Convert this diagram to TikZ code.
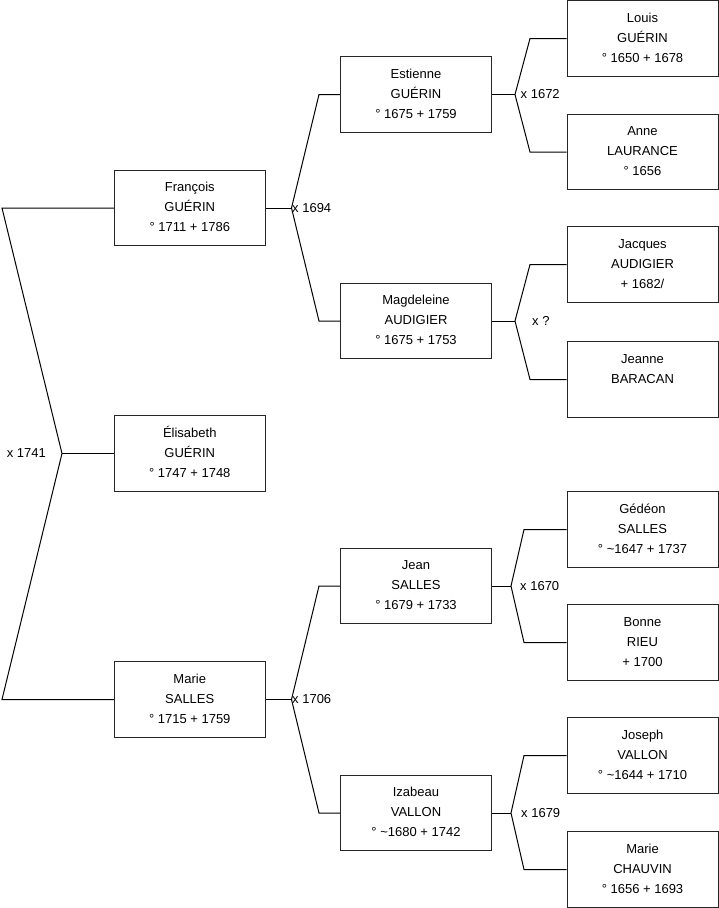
\documentclass[tikz,border=0pt]{standalone}
\usepackage{fontspec}
\setmainfont{Liberation Sans}
\newcommand\pers[3]{\rule{0pt}{12pt}#1\\#2\\#3\rule[-4.8pt]{0pt}{4.8pt}}
\tikzset{
  person/.style={draw=black!85, line width=1pt, minimum width=151pt, minimum height=75.5pt,
    inner sep=0pt, align=center, font=\fontsize{13}{20}\selectfont},
  conn/.style={line width=1pt, black},
  marr/.style={inner sep=0pt, font=\fontsize{13}{15}\selectfont}
}
\begin{document}
\begin{tikzpicture}[x=1pt,y=-1pt]
\useasboundingbox (0,0) rectangle (719,908);
% generation 0
\node[person] (elis) at (189.75,453.5) {\pers{Élisabeth}{GUÉRIN}{° 1747 + 1748}};
% generation 1
\node[person] (fran) at (189.75,208) {\pers{François}{GUÉRIN}{° 1711 + 1786}};
\node[person] (marie) at (189.75,699.5) {\pers{Marie}{SALLES}{° 1715 + 1759}};
% generation 2
\node[person] (est) at (416,94.5) {\pers{Estienne}{GUÉRIN}{° 1675 + 1759}};
\node[person] (mag) at (416,321) {\pers{Magdeleine}{AUDIGIER}{° 1675 + 1753}};
\node[person] (jean) at (416,586) {\pers{Jean}{SALLES}{° 1679 + 1733}};
\node[person] (izab) at (416,813) {\pers{Izabeau}{VALLON}{° \textasciitilde1680 + 1742}};
% generation 3
\node[person] (louis) at (642.5,38.5) {\pers{Louis}{GUÉRIN}{° 1650 + 1678}};
\node[person] (anne) at (642.5,152) {\pers{Anne}{LAURANCE}{° 1656}};
\node[person] (jacq) at (642.5,264.5) {\pers{Jacques}{AUDIGIER}{+ 1682/}};
\node[person] (jeanne) at (642.5,379.5) {\pers{Jeanne}{BARACAN}{}};
\node[person] (gedeon) at (642.5,529.5) {\pers{Gédéon}{SALLES}{° \textasciitilde1647 + 1737}};
\node[person] (bonne) at (642.5,642.5) {\pers{Bonne}{RIEU}{+ 1700}};
\node[person] (joseph) at (642.5,755.5) {\pers{Joseph}{VALLON}{° \textasciitilde1644 + 1710}};
\node[person] (mariec) at (642.5,869.5) {\pers{Marie}{CHAUVIN}{° 1656 + 1693}};

% helper coordinates
\coordinate (x0) at (2,0);
\coordinate (x1) at (319,0);
\coordinate (x2) at (530,0);
\coordinate (x3) at (524,0);
\coordinate (a0) at (62,453.5);
\coordinate (a1) at (291.5,208);
\coordinate (a2) at (291.5,699.5);
\coordinate (a3) at (515,94.5);
\coordinate (a4) at (515,321);
\coordinate (a5) at (511,586);
\coordinate (a6) at (511,813);

% forks
\draw[conn] (fran.west) -- (x0 |- fran.west) -- (a0) -- (x0 |- marie.west) -- (marie.west);
\draw[conn] (a0) -- (elis.west);
\node[marr, anchor=east] (m0) at ([xshift=-16pt]a0) {x 1741};

\draw[conn] (est.west) -- (x1 |- est.west) -- (a1) -- (x1 |- mag.west) -- (mag.west);
\draw[conn] (a1) -- (fran.east);
\node[marr, anchor=west] (m1) at ([xshift=0.5pt]a1) {x 1694};

\draw[conn] (jean.west) -- (x1 |- jean.west) -- (a2) -- (x1 |- izab.west) -- (izab.west);
\draw[conn] (a2) -- (marie.east);
\node[marr, anchor=west] (m2) at ([xshift=0.5pt]a2) {x 1706};

\draw[conn] (louis.west) -- (x2 |- louis.west) -- (a3) -- (x2 |- anne.west) -- (anne.west);
\draw[conn] (a3) -- (est.east);
\node[marr, anchor=west] (m3) at ([xshift=5.5pt]a3) {x 1672};

\draw[conn] (jacq.west) -- (x2 |- jacq.west) -- (a4) -- (x2 |- jeanne.west) -- (jeanne.west);
\draw[conn] (a4) -- (mag.east);
\node[marr, anchor=west] (m4) at ([xshift=17pt]a4) {x ?};

\draw[conn] (gedeon.west) -- (x3 |- gedeon.west) -- (a5) -- (x3 |- bonne.west) -- (bonne.west);
\draw[conn] (a5) -- (jean.east);
\node[marr, anchor=west] (m5) at ([xshift=9pt]a5) {x 1670};

\draw[conn] (joseph.west) -- (x3 |- joseph.west) -- (a6) -- (x3 |- mariec.west) -- (mariec.west);
\draw[conn] (a6) -- (izab.east);
\node[marr, anchor=west] (m6) at ([xshift=10pt]a6) {x 1679};
\end{tikzpicture}
\end{document}
